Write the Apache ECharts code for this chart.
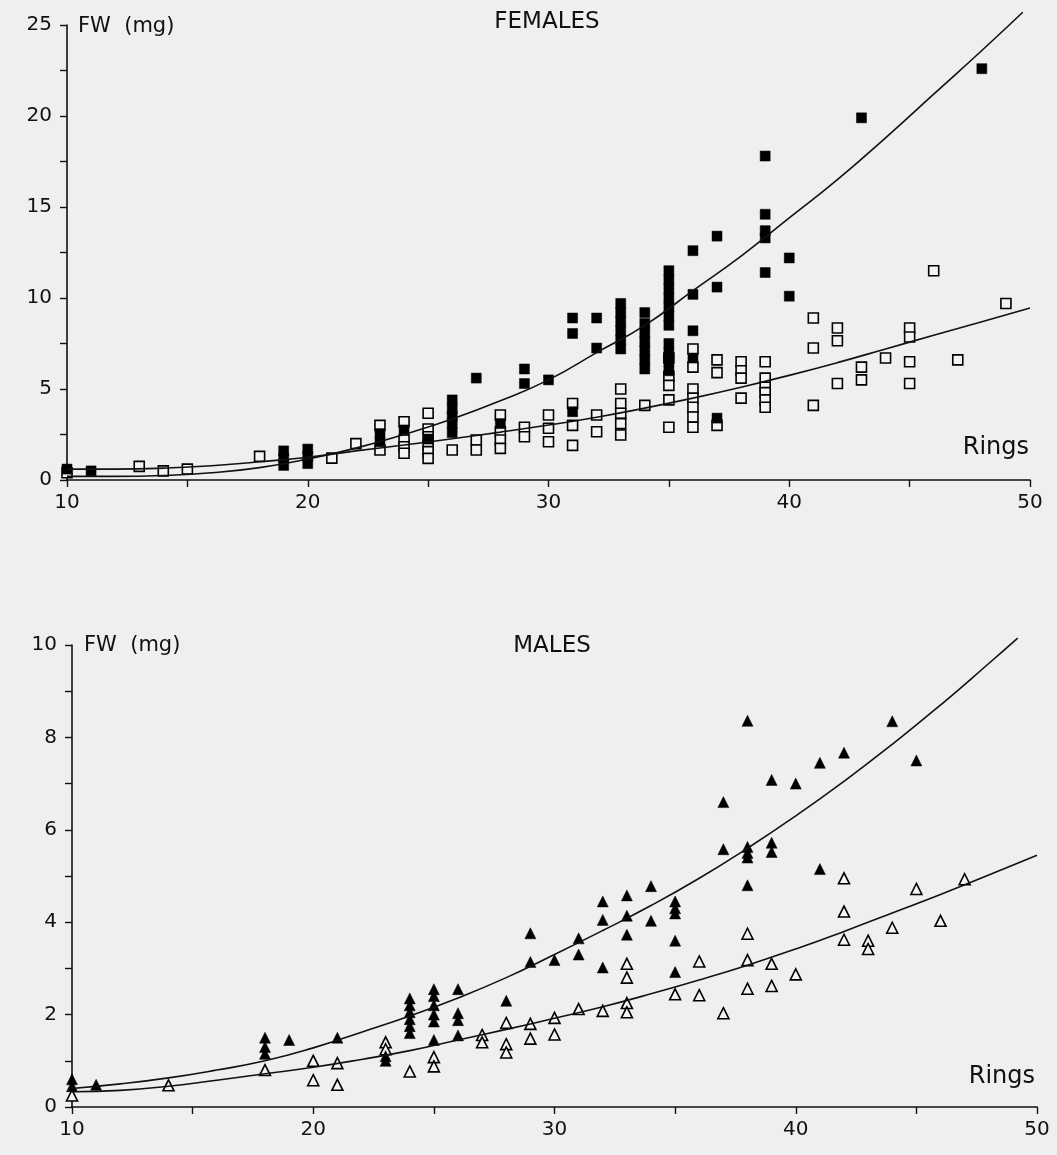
<!DOCTYPE html>
<html>
<head>
<meta charset="utf-8">
<script src="https://cdn.jsdelivr.net/npm/echarts@6/dist/echarts.min.js"></script>
<style>
html,body{margin:0;padding:0;background:#efefef;}
#c{width:1057px;height:1155px;}
</style>
</head>
<body>
<div id="c"></div>
<script>
// ---------- FEMALES ----------
const femFilledX = [10,11,19,19,19,20,20,20,23,23,24,25,26,26,26,26,26,27,28,29,29,30,31,31,31,32,32,
  33,33,33,33,33,33,34,34,34,34,34,34,34,35,35,35,35,35,35,35,35,35,35,35,36,36,36,36,37,37,37,
  39,39,39,39,39,40,40,43,48];
const femFilledY = [0.6,0.5,0.8,1.2,1.6,0.9,1.3,1.7,2.55,2.1,2.75,2.25,4.4,3.9,3.5,3.1,2.6,5.6,3.1,6.1,5.3,5.5,8.9,8.05,3.75,8.9,7.25,
  9.7,9.2,8.7,8.2,7.7,7.2,9.2,8.6,8.1,7.6,7.1,6.6,6.1,11.5,11.0,10.5,10.0,9.5,9.0,8.5,7.5,7.0,6.5,6.0,12.6,10.2,8.2,6.7,13.4,10.6,3.4,
  17.8,14.6,13.7,13.3,11.4,12.2,10.1,19.9,22.6];
const femOpenX = [10,13,14,15,18,21,22,23,23,24,24,24,24,25,25,25,25,25,25,26,27,27,28,28,28,28,29,29,30,30,30,
  31,31,31,32,32,33,33,33,33,33,34,35,35,35,35,35,36,36,36,36,36,36,36,37,37,37,38,38,38,38,
  39,39,39,39,39,39,41,41,41,42,42,42,43,43,44,45,45,45,45,46,47,49];
const femOpenY = [0.4,0.75,0.5,0.6,1.3,1.2,2.0,3.0,1.65,3.2,2.2,1.83,1.47,3.67,2.8,2.38,1.92,1.56,1.19,1.65,2.2,1.65,3.57,2.65,2.2,1.74,2.9,2.38,3.57,2.84,2.1,
  4.2,3.0,1.9,3.57,2.65,5.0,4.2,3.67,3.1,2.47,4.1,6.7,5.7,5.2,4.4,2.9,7.2,6.2,5.0,4.5,4.0,3.46,2.9,6.6,5.9,3.0,6.5,6.0,5.6,4.5,
  6.5,5.6,5.1,4.8,4.4,4.0,8.9,7.25,4.1,8.35,7.65,5.3,6.2,5.5,6.7,8.35,7.86,6.5,5.3,11.5,6.6,9.7];
const femFitFilledX = [10,12,14,16,18,20,22,24,26,28,30,32,34,36,38,40,42,44,46,48,49.7];
const femFitFilledY = [0.2,0.2,0.25,0.4,0.68,1.15,1.75,2.5,3.35,4.35,5.5,7.0,8.5,10.4,12.3,14.4,16.5,18.8,21.2,23.6,25.7];
const femFitOpenX = [10,12,14,16,18,20,22,24,26,28,30,32,34,36,38,40,42,44,46,48,50];
const femFitOpenY = [0.6,0.6,0.65,0.78,1.0,1.25,1.6,1.92,2.27,2.63,3.02,3.45,3.95,4.5,5.1,5.75,6.45,7.2,7.95,8.7,9.45];

// ---------- MALES ----------
const maleFilledX = [10,10,11,18,18,18,19,21,23,23,24,24,24,24,24,24,25,25,25,25,25,25,26,26,26,26,28,29,29,30,31,31,
  32,32,32,33,33,33,34,34,35,35,35,35,35,37,37,38,38,38,38,38,39,39,39,40,41,41,42,44,45];
const maleFilledY = [0.6,0.45,0.48,1.5,1.3,1.15,1.45,1.5,1.1,1.0,2.35,2.2,2.05,1.9,1.75,1.6,2.55,2.4,2.2,2.0,1.85,1.45,2.55,2.03,1.88,1.55,2.3,3.76,3.14,3.18,3.65,3.3,
  4.45,4.05,3.02,4.58,4.14,3.73,4.78,4.03,4.45,4.3,4.19,3.6,2.92,6.6,5.58,8.36,5.63,5.5,5.4,4.8,7.08,5.72,5.52,7.0,7.45,5.15,7.67,8.35,7.5];
const maleOpenX = [10,14,18,20,20,21,21,23,23,24,25,25,27,27,28,28,28,29,29,30,30,31,32,33,33,33,33,35,36,36,37,
  38,38,38,39,39,40,42,42,42,43,43,44,45,46,47];
const maleOpenY = [0.25,0.47,0.8,1.0,0.58,0.95,0.48,1.4,1.25,0.77,1.08,0.88,1.56,1.4,1.82,1.36,1.18,1.8,1.48,1.93,1.57,2.12,2.08,3.1,2.8,2.25,2.05,2.44,3.15,2.42,2.03,
  3.75,3.18,2.56,3.1,2.62,2.87,4.95,4.23,3.62,3.6,3.42,3.88,4.72,4.03,4.93];
const maleFitFilledX = [10,12,14,16,18,20,22,24,26,28,30,32,34,36,38,40,42,44,46,48,49.2];
const maleFitFilledY = [0.4,0.5,0.63,0.8,1.0,1.28,1.62,1.97,2.36,2.8,3.3,3.82,4.36,4.95,5.6,6.3,7.05,7.85,8.7,9.6,10.15];
const maleFitOpenX = [10,12,14,16,18,20,22,24,26,28,30,32,34,36,38,40,42,44,46,48,50];
const maleFitOpenY = [0.33,0.36,0.45,0.58,0.72,0.86,1.03,1.22,1.45,1.68,1.92,2.17,2.45,2.75,3.07,3.42,3.8,4.2,4.6,5.02,5.45];

// axis tick labels
const xTickLabels = [10,20,30,40,50];
const femYTickLabels = [0,5,10,15,20,25];
const maleYTickLabels = [0,2,4,6,8,10];

const pairs = (xs, ys) => xs.map((x, i) => [x, ys[i]]);
const FONT = '"DejaVu Sans", "Open Sans", sans-serif';
const INK = '#111111';

function xAxisCfg(gi) {
  return {
    type: 'value', gridIndex: gi, min: 10, max: 50, interval: 5,
    axisLine: {show: true, lineStyle: {color: INK, width: 1.6}},
    axisTick: {show: true, inside: false, length: 7, lineStyle: {color: INK, width: 1.4}},
    axisLabel: {
      margin: 13, color: INK, fontFamily: FONT, fontSize: 20,
      formatter: v => xTickLabels.includes(v) ? String(v) : ''
    },
    splitLine: {show: false}
  };
}
function yAxisCfg(gi, max, interval, labels) {
  return {
    type: 'value', gridIndex: gi, min: 0, max: max, interval: interval,
    axisLine: {show: true, onZero: false, lineStyle: {color: INK, width: 1.6}},
    axisTick: {show: true, inside: false, length: 7, lineStyle: {color: INK, width: 1.4}},
    axisLabel: {
      margin: 15, color: INK, fontFamily: FONT, fontSize: 20,
      formatter: v => labels.includes(v) ? String(v) : ''
    },
    splitLine: {show: false}
  };
}
function scatter(gi, data, symbol, filled, size) {
  return {
    type: 'scatter', xAxisIndex: gi, yAxisIndex: gi, data: data, symbol: symbol,
    symbolSize: size, clip: false, silent: true,
    itemStyle: filled ? {color: '#000', borderColor: '#000', borderWidth: 0.5, opacity: 1}
                      : {color: '#f4f4f4', borderColor: '#000', borderWidth: 1.6, opacity: 1}
  };
}
function fit(gi, data) {
  return {
    type: 'line', xAxisIndex: gi, yAxisIndex: gi, data: data, smooth: 0.5,
    showSymbol: false, symbol: 'none', silent: true, clip: false,
    lineStyle: {color: INK, width: 1.6}, z: 3
  };
}

const chart = echarts.init(document.getElementById('c'), null, {renderer: 'canvas'});
chart.setOption({
  backgroundColor: '#efefef',
  animation: false,
  grid: [
    {left: 67, top: 25, width: 963, height: 455},
    {left: 72, top: 645, width: 965, height: 462}
  ],
  xAxis: [xAxisCfg(0), xAxisCfg(1)],
  yAxis: [yAxisCfg(0, 25, 2.5, femYTickLabels), yAxisCfg(1, 10, 1, maleYTickLabels)],
  series: [
    fit(0, pairs(femFitFilledX, femFitFilledY)),
    fit(0, pairs(femFitOpenX, femFitOpenY)),
    scatter(0, pairs(femOpenX, femOpenY), 'rect', false, 10),
    scatter(0, pairs(femFilledX, femFilledY), 'rect', true, 10),
    fit(1, pairs(maleFitFilledX, maleFitFilledY)),
    fit(1, pairs(maleFitOpenX, maleFitOpenY)),
    scatter(1, pairs(maleOpenX, maleOpenY), 'triangle', false, 11),
    scatter(1, pairs(maleFilledX, maleFilledY), 'triangle', true, 11)
  ],
  graphic: [
    {type: 'text', x: 78, y: 27, style: {text: 'FW  (mg)', font: '21px ' + FONT, fill: INK, verticalAlign: 'middle'}},
    {type: 'text', x: 547, y: 22, style: {text: 'FEMALES', font: '23px ' + FONT, fill: INK, align: 'center', verticalAlign: 'middle'}},
    {type: 'text', x: 1029, y: 448, style: {text: 'Rings', font: '24px ' + FONT, fill: INK, align: 'right', verticalAlign: 'middle'}},
    {type: 'text', x: 84, y: 646, style: {text: 'FW  (mg)', font: '21px ' + FONT, fill: INK, verticalAlign: 'middle'}},
    {type: 'text', x: 552, y: 646, style: {text: 'MALES', font: '23px ' + FONT, fill: INK, align: 'center', verticalAlign: 'middle'}},
    {type: 'text', x: 1035, y: 1077, style: {text: 'Rings', font: '24px ' + FONT, fill: INK, align: 'right', verticalAlign: 'middle'}}
  ]
});
</script>
</body>
</html>
